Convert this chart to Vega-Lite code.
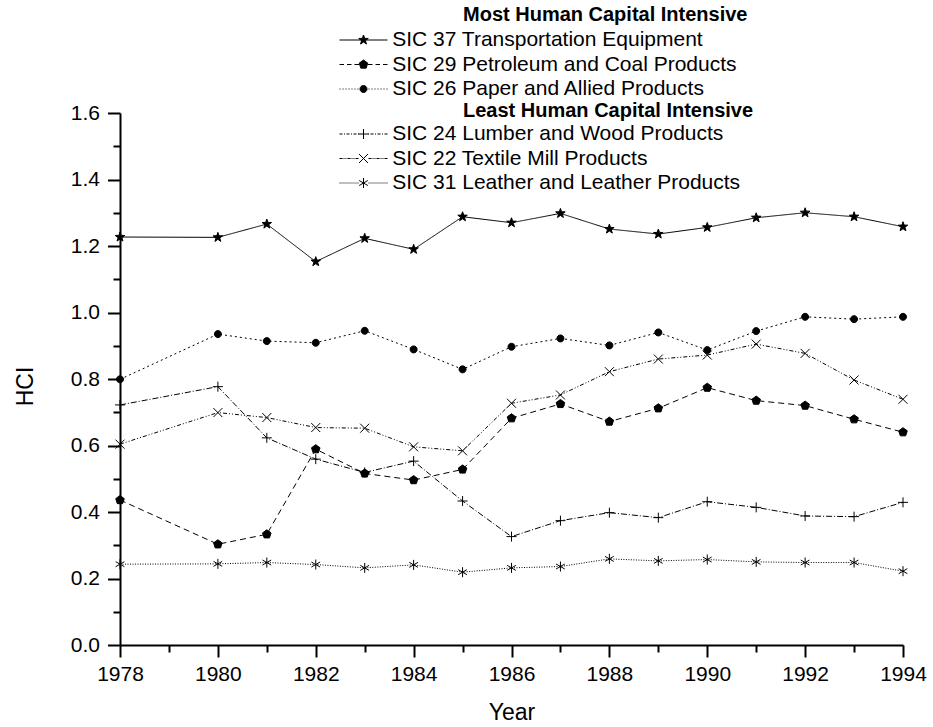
{
  "$schema": "https://vega.github.io/schema/vega-lite/v6.json",
  "width": 783,
  "height": 532,
  "autosize": "none",
  "padding": {"left": 120, "top": 113, "right": 30, "bottom": 82},
  "background": "white",
  "config": {"font": "Liberation Sans", "view": {"stroke": null}},
  "data": {"values": [
    {"series": "SIC 37 Transportation Equipment", "Year": 1978, "HCI": 1.227},
    {"series": "SIC 37 Transportation Equipment", "Year": 1980, "HCI": 1.226},
    {"series": "SIC 37 Transportation Equipment", "Year": 1981, "HCI": 1.266},
    {"series": "SIC 37 Transportation Equipment", "Year": 1982, "HCI": 1.153},
    {"series": "SIC 37 Transportation Equipment", "Year": 1983, "HCI": 1.223},
    {"series": "SIC 37 Transportation Equipment", "Year": 1984, "HCI": 1.19},
    {"series": "SIC 37 Transportation Equipment", "Year": 1985, "HCI": 1.288},
    {"series": "SIC 37 Transportation Equipment", "Year": 1986, "HCI": 1.27},
    {"series": "SIC 37 Transportation Equipment", "Year": 1987, "HCI": 1.298},
    {"series": "SIC 37 Transportation Equipment", "Year": 1988, "HCI": 1.251},
    {"series": "SIC 37 Transportation Equipment", "Year": 1989, "HCI": 1.236},
    {"series": "SIC 37 Transportation Equipment", "Year": 1990, "HCI": 1.256},
    {"series": "SIC 37 Transportation Equipment", "Year": 1991, "HCI": 1.285},
    {"series": "SIC 37 Transportation Equipment", "Year": 1992, "HCI": 1.3},
    {"series": "SIC 37 Transportation Equipment", "Year": 1993, "HCI": 1.288},
    {"series": "SIC 37 Transportation Equipment", "Year": 1994, "HCI": 1.258},
    {"series": "SIC 29 Petroleum and Coal Products", "Year": 1978, "HCI": 0.436},
    {"series": "SIC 29 Petroleum and Coal Products", "Year": 1980, "HCI": 0.303},
    {"series": "SIC 29 Petroleum and Coal Products", "Year": 1981, "HCI": 0.333},
    {"series": "SIC 29 Petroleum and Coal Products", "Year": 1982, "HCI": 0.589},
    {"series": "SIC 29 Petroleum and Coal Products", "Year": 1983, "HCI": 0.516},
    {"series": "SIC 29 Petroleum and Coal Products", "Year": 1984, "HCI": 0.496},
    {"series": "SIC 29 Petroleum and Coal Products", "Year": 1985, "HCI": 0.528},
    {"series": "SIC 29 Petroleum and Coal Products", "Year": 1986, "HCI": 0.682},
    {"series": "SIC 29 Petroleum and Coal Products", "Year": 1987, "HCI": 0.725},
    {"series": "SIC 29 Petroleum and Coal Products", "Year": 1988, "HCI": 0.672},
    {"series": "SIC 29 Petroleum and Coal Products", "Year": 1989, "HCI": 0.712},
    {"series": "SIC 29 Petroleum and Coal Products", "Year": 1990, "HCI": 0.774},
    {"series": "SIC 29 Petroleum and Coal Products", "Year": 1991, "HCI": 0.735},
    {"series": "SIC 29 Petroleum and Coal Products", "Year": 1992, "HCI": 0.72},
    {"series": "SIC 29 Petroleum and Coal Products", "Year": 1993, "HCI": 0.679},
    {"series": "SIC 29 Petroleum and Coal Products", "Year": 1994, "HCI": 0.64},
    {"series": "SIC 26 Paper and Allied Products", "Year": 1978, "HCI": 0.799},
    {"series": "SIC 26 Paper and Allied Products", "Year": 1980, "HCI": 0.935},
    {"series": "SIC 26 Paper and Allied Products", "Year": 1981, "HCI": 0.914},
    {"series": "SIC 26 Paper and Allied Products", "Year": 1982, "HCI": 0.909},
    {"series": "SIC 26 Paper and Allied Products", "Year": 1983, "HCI": 0.945},
    {"series": "SIC 26 Paper and Allied Products", "Year": 1984, "HCI": 0.889},
    {"series": "SIC 26 Paper and Allied Products", "Year": 1985, "HCI": 0.829},
    {"series": "SIC 26 Paper and Allied Products", "Year": 1986, "HCI": 0.897},
    {"series": "SIC 26 Paper and Allied Products", "Year": 1987, "HCI": 0.922},
    {"series": "SIC 26 Paper and Allied Products", "Year": 1988, "HCI": 0.901},
    {"series": "SIC 26 Paper and Allied Products", "Year": 1989, "HCI": 0.94},
    {"series": "SIC 26 Paper and Allied Products", "Year": 1990, "HCI": 0.887},
    {"series": "SIC 26 Paper and Allied Products", "Year": 1991, "HCI": 0.944},
    {"series": "SIC 26 Paper and Allied Products", "Year": 1992, "HCI": 0.987},
    {"series": "SIC 26 Paper and Allied Products", "Year": 1993, "HCI": 0.98},
    {"series": "SIC 26 Paper and Allied Products", "Year": 1994, "HCI": 0.987},
    {"series": "SIC 24 Lumber and Wood Products", "Year": 1978, "HCI": 0.722},
    {"series": "SIC 24 Lumber and Wood Products", "Year": 1980, "HCI": 0.777},
    {"series": "SIC 24 Lumber and Wood Products", "Year": 1981, "HCI": 0.623},
    {"series": "SIC 24 Lumber and Wood Products", "Year": 1982, "HCI": 0.559},
    {"series": "SIC 24 Lumber and Wood Products", "Year": 1983, "HCI": 0.519},
    {"series": "SIC 24 Lumber and Wood Products", "Year": 1984, "HCI": 0.553},
    {"series": "SIC 24 Lumber and Wood Products", "Year": 1985, "HCI": 0.433},
    {"series": "SIC 24 Lumber and Wood Products", "Year": 1986, "HCI": 0.326},
    {"series": "SIC 24 Lumber and Wood Products", "Year": 1987, "HCI": 0.374},
    {"series": "SIC 24 Lumber and Wood Products", "Year": 1988, "HCI": 0.398},
    {"series": "SIC 24 Lumber and Wood Products", "Year": 1989, "HCI": 0.383},
    {"series": "SIC 24 Lumber and Wood Products", "Year": 1990, "HCI": 0.431},
    {"series": "SIC 24 Lumber and Wood Products", "Year": 1991, "HCI": 0.414},
    {"series": "SIC 24 Lumber and Wood Products", "Year": 1992, "HCI": 0.388},
    {"series": "SIC 24 Lumber and Wood Products", "Year": 1993, "HCI": 0.386},
    {"series": "SIC 24 Lumber and Wood Products", "Year": 1994, "HCI": 0.429},
    {"series": "SIC 22 Textile Mill Products", "Year": 1978, "HCI": 0.604},
    {"series": "SIC 22 Textile Mill Products", "Year": 1980, "HCI": 0.699},
    {"series": "SIC 22 Textile Mill Products", "Year": 1981, "HCI": 0.684},
    {"series": "SIC 22 Textile Mill Products", "Year": 1982, "HCI": 0.654},
    {"series": "SIC 22 Textile Mill Products", "Year": 1983, "HCI": 0.652},
    {"series": "SIC 22 Textile Mill Products", "Year": 1984, "HCI": 0.596},
    {"series": "SIC 22 Textile Mill Products", "Year": 1985, "HCI": 0.584},
    {"series": "SIC 22 Textile Mill Products", "Year": 1986, "HCI": 0.727},
    {"series": "SIC 22 Textile Mill Products", "Year": 1987, "HCI": 0.752},
    {"series": "SIC 22 Textile Mill Products", "Year": 1988, "HCI": 0.822},
    {"series": "SIC 22 Textile Mill Products", "Year": 1989, "HCI": 0.86},
    {"series": "SIC 22 Textile Mill Products", "Year": 1990, "HCI": 0.872},
    {"series": "SIC 22 Textile Mill Products", "Year": 1991, "HCI": 0.905},
    {"series": "SIC 22 Textile Mill Products", "Year": 1992, "HCI": 0.877},
    {"series": "SIC 22 Textile Mill Products", "Year": 1993, "HCI": 0.797},
    {"series": "SIC 22 Textile Mill Products", "Year": 1994, "HCI": 0.739},
    {"series": "SIC 31 Leather and Leather Products", "Year": 1978, "HCI": 0.243},
    {"series": "SIC 31 Leather and Leather Products", "Year": 1980, "HCI": 0.244},
    {"series": "SIC 31 Leather and Leather Products", "Year": 1981, "HCI": 0.248},
    {"series": "SIC 31 Leather and Leather Products", "Year": 1982, "HCI": 0.242},
    {"series": "SIC 31 Leather and Leather Products", "Year": 1983, "HCI": 0.232},
    {"series": "SIC 31 Leather and Leather Products", "Year": 1984, "HCI": 0.241},
    {"series": "SIC 31 Leather and Leather Products", "Year": 1985, "HCI": 0.219},
    {"series": "SIC 31 Leather and Leather Products", "Year": 1986, "HCI": 0.232},
    {"series": "SIC 31 Leather and Leather Products", "Year": 1987, "HCI": 0.236},
    {"series": "SIC 31 Leather and Leather Products", "Year": 1988, "HCI": 0.259},
    {"series": "SIC 31 Leather and Leather Products", "Year": 1989, "HCI": 0.253},
    {"series": "SIC 31 Leather and Leather Products", "Year": 1990, "HCI": 0.257},
    {"series": "SIC 31 Leather and Leather Products", "Year": 1991, "HCI": 0.25},
    {"series": "SIC 31 Leather and Leather Products", "Year": 1992, "HCI": 0.248},
    {"series": "SIC 31 Leather and Leather Products", "Year": 1993, "HCI": 0.248},
    {"series": "SIC 31 Leather and Leather Products", "Year": 1994, "HCI": 0.222}
  ]},
  "encoding": {
    "x": {
      "field": "Year", "type": "quantitative",
      "scale": {"domain": [1978, 1994], "nice": false, "zero": false},
      "axis": {
        "title": "Year",
        "values": [1978, 1979, 1980, 1981, 1982, 1983, 1984, 1985, 1986, 1987, 1988, 1989, 1990, 1991, 1992, 1993, 1994],
        "format": "d",
        "labelExpr": "datum.value % 2 === 0 ? datum.label : ''",
        "tickSize": {"condition": {"test": "datum.value % 2 === 0", "value": 12}, "value": 7},
        "tickWidth": 2, "tickColor": "black",
        "domainWidth": 2, "domainColor": "black",
        "labelFontSize": 21, "labelColor": "black", "labelPadding": 6,
        "labelFlush": false, "labelOverlap": false, "grid": false,
        "titleFontSize": 23, "titleFontWeight": "normal", "titleColor": "black",
        "titleBaseline": "alphabetic", "titleY": 74
      }
    },
    "y": {
      "field": "HCI", "type": "quantitative",
      "scale": {"domain": [0, 1.6], "nice": false, "zero": false},
      "axis": {
        "title": "HCI",
        "values": [0, 0.1, 0.2, 0.3, 0.4, 0.5, 0.6, 0.7, 0.8, 0.9, 1.0, 1.1, 1.2, 1.3, 1.4, 1.5, 1.6],
        "format": ".1f",
        "labelExpr": "round(datum.value * 10) % 2 === 0 ? datum.label : ''",
        "tickSize": {"condition": {"test": "round(datum.value * 10) % 2 === 0", "value": 12.5}, "value": 7},
        "tickWidth": 2, "tickColor": "black",
        "domainWidth": 2, "domainColor": "black",
        "labelFontSize": 21, "labelColor": "black", "labelPadding": 8,
        "labelOverlap": false, "grid": false,
        "titleFontSize": 23, "titleFontWeight": "normal", "titleColor": "black",
        "titleBaseline": "alphabetic", "titleX": -88, "titleY": 273
      }
    }
  },
  "layer": [
    {
      "transform": [{"filter": {"field": "series", "oneOf": ["SIC 37 Transportation Equipment", "SIC 29 Petroleum and Coal Products", "SIC 26 Paper and Allied Products"]}}],
      "mark": {"type": "line", "strokeWidth": 1},
      "encoding": {
        "strokeDash": {
          "field": "series", "type": "nominal",
          "scale": {"domain": ["SIC 37 Transportation Equipment", "SIC 29 Petroleum and Coal Products", "SIC 26 Paper and Allied Products"], "range": [[1, 0], [6, 4], [2, 3]]},
          "legend": null
        },
        "color": {
          "datum": "Most Human Capital Intensive", "type": "nominal",
          "scale": {"range": ["black"]},
          "legend": {
            "title": null, "orient": "none", "legendX": 323, "legendY": -108, "padding": 0,
            "symbolOpacity": 0, "symbolSize": 0, "labelOffset": 0,
            "labelFontSize": 20, "labelFont": "Liberation Sans", "labelFontWeight": "bold", "labelColor": "black", "labelLimit": 0
          }
        }
      }
    },
    {
      "transform": [{"filter": {"field": "series", "oneOf": ["SIC 24 Lumber and Wood Products", "SIC 22 Textile Mill Products", "SIC 31 Leather and Leather Products"]}}],
      "mark": {"type": "line", "strokeWidth": 1},
      "encoding": {
        "strokeDash": {
          "field": "series", "type": "nominal",
          "scale": {"domain": ["SIC 24 Lumber and Wood Products", "SIC 22 Textile Mill Products", "SIC 31 Leather and Leather Products"], "range": [[6, 2, 1, 2], [4, 2, 1, 2, 1, 2], [1, 1.5]]},
          "legend": null
        },
        "color": {
          "datum": "Least Human Capital Intensive", "type": "nominal",
          "scale": {"range": ["black"]},
          "legend": {
            "title": null, "orient": "none", "legendX": 323, "legendY": -12, "padding": 0,
            "symbolOpacity": 0, "symbolSize": 0, "labelOffset": 0,
            "labelFontSize": 20, "labelFont": "Liberation Sans", "labelFontWeight": "bold", "labelColor": "black", "labelLimit": 0
          }
        }
      }
    },
    {
      "transform": [{"filter": {"field": "series", "oneOf": ["SIC 37 Transportation Equipment", "SIC 29 Petroleum and Coal Products", "SIC 26 Paper and Allied Products"]}}],
      "mark": {"type": "point", "filled": true, "fill": "black", "stroke": "black", "strokeWidth": 1, "size": 100, "opacity": 1},
      "encoding": {
        "shape": {
          "field": "series", "type": "nominal",
          "scale": {
            "domain": ["SIC 37 Transportation Equipment", "SIC 29 Petroleum and Coal Products", "SIC 26 Paper and Allied Products"],
            "range": [
              "M0,-1L0.235,-0.324L0.951,-0.309L0.38,0.124L0.588,0.809L0,0.4L-0.588,0.809L-0.38,0.124L-0.951,-0.309L-0.235,-0.324Z",
              "M0,-0.9L0.856,-0.278L0.529,0.728L-0.529,0.728L-0.856,-0.278Z",
              "M0.7,0A0.7,0.7 0 1,1 -0.7,0A0.7,0.7 0 1,1 0.7,0Z"
            ]
          },
          "legend": null
        }
      }
    },
    {
      "transform": [{"filter": {"field": "series", "oneOf": ["SIC 24 Lumber and Wood Products", "SIC 22 Textile Mill Products", "SIC 31 Leather and Leather Products"]}}],
      "mark": {"type": "point", "filled": true, "fill": "black", "stroke": "black", "strokeWidth": 1, "size": 100, "opacity": 1},
      "encoding": {
        "shape": {
          "field": "series", "type": "nominal",
          "scale": {
            "domain": ["SIC 24 Lumber and Wood Products", "SIC 22 Textile Mill Products", "SIC 31 Leather and Leather Products"],
            "range": [
              "M-1,0L1,0M0,-1L0,1",
              "M-0.9,-0.9L0.9,0.9M-0.9,0.9L0.9,-0.9",
              "M0,-1L0,1M-0.87,-0.5L0.87,0.5M-0.87,0.5L0.87,-0.5"
            ]
          },
          "legend": null
        }
      }
    },
    {
      "transform": [{"filter": {"field": "series", "oneOf": ["SIC 37 Transportation Equipment", "SIC 29 Petroleum and Coal Products", "SIC 26 Paper and Allied Products"]}}],
      "mark": {"type": "point", "filled": false, "fill": "black", "stroke": "black", "strokeWidth": 1, "size": 100, "opacity": 0},
      "encoding": {
        "shape": {
          "field": "series", "type": "nominal",
          "scale": {
            "domain": ["SIC 37 Transportation Equipment", "SIC 29 Petroleum and Coal Products", "SIC 26 Paper and Allied Products"],
            "range": [
              "M-4.8,0L4.8,0M0,-1L0.235,-0.324L0.951,-0.309L0.38,0.124L0.588,0.809L0,0.4L-0.588,0.809L-0.38,0.124L-0.951,-0.309L-0.235,-0.324Z",
              "M-4.8,0L-3.9,0M-3.3,0L-2.4,0M-1.8,0L-0.9,0M0.9,0L1.8,0M2.4,0L3.3,0M3.9,0L4.8,0M0,-0.9L0.856,-0.278L0.529,0.728L-0.529,0.728L-0.856,-0.278Z",
              "M-4.8,0L-4.6,0M-4.2,0L-4,0M-3.6,0L-3.4,0M-3,0L-2.8,0M-2.4,0L-2.2,0M-1.8,0L-1.6,0M-1.2,0L-1,0M1,0L1.2,0M1.6,0L1.8,0M2.2,0L2.4,0M2.8,0L3,0M3.4,0L3.6,0M4,0L4.2,0M4.6,0L4.8,0M0.7,0A0.7,0.7 0 1,1 -0.7,0A0.7,0.7 0 1,1 0.7,0Z"
            ]
          },
          "legend": {
            "title": null, "orient": "none", "legendX": 233, "legendY": -83.5, "padding": 0,
            "symbolSize": 100, "symbolStrokeWidth": 1, "symbolOpacity": 1,
            "labelOffset": 18.2, "labelFontSize": 21, "labelFont": "Liberation Sans", "labelColor": "black", "labelLimit": 0,
            "rowPadding": 2.5
          }
        }
      }
    },
    {
      "transform": [{"filter": {"field": "series", "oneOf": ["SIC 24 Lumber and Wood Products", "SIC 22 Textile Mill Products", "SIC 31 Leather and Leather Products"]}}],
      "mark": {"type": "point", "filled": false, "fill": "black", "stroke": "black", "strokeWidth": 1, "size": 100, "opacity": 0},
      "encoding": {
        "shape": {
          "field": "series", "type": "nominal",
          "scale": {
            "domain": ["SIC 24 Lumber and Wood Products", "SIC 22 Textile Mill Products", "SIC 31 Leather and Leather Products"],
            "range": [
              "M-4.8,0L-4.2,0M-3.9,0L-3.7,0M-3.4,0L-2.8,0M-2.5,0L-2.3,0M-2,0L-1.4,0M-1.1,0L-0.9,0M0.9,0L1.1,0M1.4,0L2,0M2.3,0L2.5,0M2.8,0L3.4,0M3.7,0L3.9,0M4.2,0L4.8,0M-1,0L1,0M0,-1L0,1",
              "M-4.8,0L-4.2,0M-4,0L-3.8,0M-3.6,0L-3.4,0M-3.2,0L-2.6,0M-2.4,0L-2.2,0M-2,0L-1.8,0M-1.6,0L-1,0M1,0L1.6,0M1.8,0L2,0M2.2,0L2.4,0M2.6,0L3.2,0M3.4,0L3.6,0M3.8,0L4,0M4.2,0L4.8,0M-0.9,-0.9L0.9,0.9M-0.9,0.9L0.9,-0.9",
              "M-4.8,0L-4.6,0M-4.4,0L-4.2,0M-4,0L-3.8,0M-3.6,0L-3.4,0M-3.2,0L-3,0M-2.8,0L-2.6,0M-2.4,0L-2.2,0M-2,0L-1.8,0M-1.6,0L-1.4,0M-1.2,0L-1,0M1,0L1.2,0M1.4,0L1.6,0M1.8,0L2,0M2.2,0L2.4,0M2.6,0L2.8,0M3,0L3.2,0M3.4,0L3.6,0M3.8,0L4,0M4.2,0L4.4,0M4.6,0L4.8,0M0,-1L0,1M-0.87,-0.5L0.87,0.5M-0.87,0.5L0.87,-0.5"
            ]
          },
          "legend": {
            "title": null, "orient": "none", "legendX": 233, "legendY": 10.5, "padding": 0,
            "symbolSize": 100, "symbolStrokeWidth": 1, "symbolOpacity": 1,
            "labelOffset": 18.2, "labelFontSize": 21, "labelFont": "Liberation Sans", "labelColor": "black", "labelLimit": 0,
            "rowPadding": 2.5
          }
        }
      }
    }
  ],
  "resolve": {"scale": {"shape": "independent", "strokeDash": "independent", "color": "independent"}}
}
